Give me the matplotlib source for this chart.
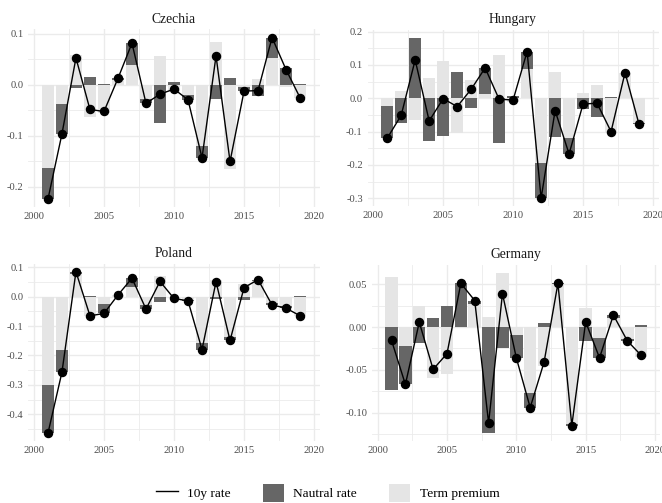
import numpy as np
import matplotlib.pyplot as plt
from matplotlib.lines import Line2D
from matplotlib.patches import Patch

plt.rcParams['font.family'] = ['Liberation Serif', 'DejaVu Serif']

years = np.arange(2001, 2020)

cz_neutral = [-0.062, -0.059, -0.005, 0.015, 0.002, 0.003, 0.043, -0.008, -0.075, 0.005,
              -0.009, -0.023, -0.028, 0.014, -0.009, -0.022, 0.040, 0.034, 0.001]
cz_term = [-0.162, -0.037, 0.058, -0.063, -0.054, 0.010, 0.039, -0.028, 0.057, -0.013,
           -0.020, -0.120, 0.085, -0.164, -0.003, 0.011, 0.053, -0.004, -0.026]
cz_rate = [-0.224, -0.096, 0.053, -0.048, -0.052, 0.013, 0.082, -0.036, -0.018, -0.008,
           -0.029, -0.143, 0.057, -0.150, -0.012, -0.011, 0.093, 0.030, -0.025]

hu_neutral = [-0.097, -0.073, 0.180, -0.128, -0.113, 0.078, -0.028, 0.078, -0.133, 0.007,
              0.053, -0.107, -0.115, -0.047, -0.033, -0.055, 0.003, 0.000, -0.005]
hu_term = [-0.023, 0.022, -0.065, 0.060, 0.112, -0.103, 0.055, 0.013, 0.130, -0.012,
           0.087, -0.193, 0.078, -0.120, 0.016, 0.040, -0.103, 0.077, -0.073]
hu_rate = [-0.120, -0.051, 0.115, -0.068, -0.001, -0.025, 0.027, 0.091, -0.003, -0.005,
           0.140, -0.300, -0.037, -0.167, -0.017, -0.015, -0.100, 0.077, -0.078]

pl_neutral = [-0.165, -0.074, 0.008, 0.001, -0.031, 0.000, 0.031, -0.013, -0.018, 0.000,
              -0.003, -0.023, -0.007, -0.013, -0.011, 0.004, -0.008, -0.006, 0.001]
pl_term = [-0.300, -0.183, 0.077, -0.066, -0.026, 0.006, 0.032, -0.029, 0.070, -0.006,
           -0.011, -0.157, 0.058, -0.136, 0.042, 0.054, -0.020, -0.033, -0.066]
pl_rate = [-0.465, -0.257, 0.085, -0.065, -0.057, 0.006, 0.063, -0.042, 0.052, -0.006,
           -0.014, -0.180, 0.051, -0.149, 0.031, 0.058, -0.028, -0.039, -0.065]

de_neutral = [-0.0735, -0.045, -0.019, 0.0106, 0.024, 0.052, 0.0045, -0.124, -0.024, -0.027,
              -0.017, 0.0047, 0.001, -0.002, -0.016, -0.023, 0.004, -0.002, 0.002]
de_term = [0.058, -0.022, 0.0247, -0.060, -0.055, -0.001, 0.0265, 0.012, 0.063, -0.009,
           -0.077, -0.046, 0.050, -0.113, 0.022, -0.013, 0.010, -0.014, -0.035]
de_rate = [-0.0155, -0.067, 0.0057, -0.0494, -0.031, 0.051, 0.031, -0.112, 0.039, -0.036,
           -0.094, -0.041, 0.051, -0.115, 0.006, -0.036, 0.014, -0.016, -0.033]

x_ticks = [2000, 2005, 2010, 2015, 2020]
cz_yticks = [0.1, 0.0, -0.1, -0.2]
hu_yticks = [0.2, 0.1, 0.0, -0.1, -0.2, -0.3]
pl_yticks = [0.1, 0.0, -0.1, -0.2, -0.3, -0.4]
de_yticks = [0.05, 0.00, -0.05, -0.10]

DARK = '#666666'
LIGHT = '#E5E5E5'
GRID = '#EBEBEB'

panels = [
    ('Czechia', cz_neutral, cz_term, cz_rate, cz_yticks, '%.1f', [0.0429, 0.5879, 0.4399, 0.3535]),
    ('Hungary', hu_neutral, hu_term, hu_rate, hu_yticks, '%.1f', [0.5554, 0.5899, 0.4394, 0.3499]),
    ('Poland', pl_neutral, pl_term, pl_rate, pl_yticks, '%.1f', [0.0429, 0.1225, 0.4399, 0.3533]),
    ('Germany', de_neutral, de_term, de_rate, de_yticks, '%.2f', [0.5622, 0.1227, 0.4355, 0.3503]),
]

fig = plt.figure(figsize=(6.62, 5.03), dpi=100)

for name, neutral, term, rate, yt, fmt, pos in panels:
    ax = fig.add_axes(pos)
    neutral = np.array(neutral)
    term = np.array(term)
    # ggplot-like stacking: term premium next to zero, neutral rate further out
    same = np.sign(neutral) == np.sign(term)
    bottom_n = np.where(same, term, 0.0)
    ax.bar(years, term, width=0.9, color=LIGHT, zorder=2)
    ax.bar(years, neutral, width=0.9, bottom=bottom_n, color=DARK, zorder=2)
    ax.plot(years, rate, color='black', lw=1.0, marker='o', ms=5.8, zorder=3)

    pos_sum = np.where(term > 0, term, 0) + np.where(neutral > 0, neutral, 0)
    neg_sum = np.where(term < 0, term, 0) + np.where(neutral < 0, neutral, 0)
    lo = min(neg_sum.min(), min(rate))
    hi = max(pos_sum.max(), max(rate))
    pad = 0.05 * (hi - lo)

    ax.set_xticks(x_ticks)
    ax.set_xticks([2002.5, 2007.5, 2012.5, 2017.5], minor=True)
    ax.set_yticks(yt)
    ax.set_yticklabels([fmt % v for v in yt])
    step = yt[0] - yt[1]
    minor_y = [v + step / 2 for v in yt] + [yt[-1] - step / 2]
    ax.set_yticks(minor_y, minor=True)
    ax.set_ylim(lo - pad, hi + pad)
    ax.set_xlim(2000.55 - 0.945, 2019.45 + 0.945)

    ax.grid(True, which='major', color=GRID, lw=1.0, zorder=0)
    ax.grid(True, which='minor', color=GRID, lw=0.6, zorder=0)
    ax.set_axisbelow(True)
    for s in ax.spines.values():
        s.set_visible(False)
    ax.tick_params(which='both', length=0, labelsize=7.6, colors='#4D4D4D', pad=3.5)
    ax.set_title(name, fontsize=9.8, pad=5, color='#1A1A1A')

handles = [Line2D([], [], color='black', lw=1.0),
           Patch(facecolor=DARK, edgecolor='none'),
           Patch(facecolor=LIGHT, edgecolor='none')]
labels = ['10y rate', 'Nautral rate', 'Term premium']
fig.legend(handles, labels, loc='center', bbox_to_anchor=(328 / 662, 1 - 493 / 503),
           ncol=3, frameon=False, fontsize=9.6, handlelength=1.6, handleheight=1.6,
           handletextpad=0.7, columnspacing=2.4)

fig.savefig('out.png', dpi=100)
